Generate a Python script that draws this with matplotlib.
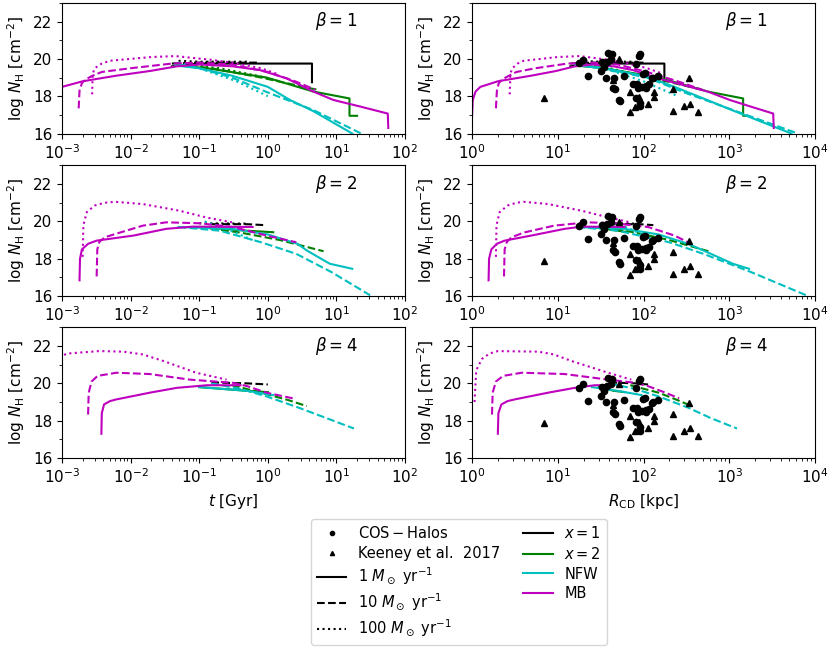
import matplotlib
matplotlib.use('Agg')
import matplotlib.pyplot as plt
from matplotlib.lines import Line2D

# Observations (R_CD [kpc], log N_H)
cos_r = [17.7, 19.7, 22.6, 31.5, 34.4, 33, 36.3, 38.3, 43, 42.3, 45, 43.5, 46.2, 51.9, 53.8,
         58.9, 75.7, 84, 86, 95, 99, 108, 116, 129, 148, 88, 92, 81, 90, 90, 104, 127, 106, 81, 37]
cos_n = [19.76, 19.95, 19.07, 19.33, 19.57, 19.81, 19.0, 20.31, 20.26, 19.99, 19.0, 18.46, 18.37, 17.82, 17.74,
         19.09, 18.68, 18.68, 18.46, 18.5, 19.18, 18.46, 18.64, 19.0, 19.09, 20.15, 20.25, 17.92, 17.65, 17.47,
         19.22, 18.95, 18.55, 19.75, 19.85]
keeney_r = [6.9, 44, 52, 69, 69, 79, 89, 89, 113, 133, 133, 221, 221, 298, 347, 340, 427]
keeney_n = [17.89, 18.85, 19.97, 18.25, 17.15, 17.44, 17.65, 17.95, 17.6, 18.23, 17.96, 18.37, 17.2,
            17.47, 17.6, 18.95, 17.17]

# model curves: (t [Gyr], R_CD [kpc], log N_H)
# beta = 1
b1_mb1 = ([7e-4, 7.5e-4, 8.5e-4, 1e-3, 2e-3, 6.2e-3, 0.019, 0.047, 0.1, 0.31, 0.77, 1.9, 4.6, 9, 22, 56, 57],
          [1.0, 1.02, 1.1, 1.25, 2.0, 4.9, 9.5, 15.8, 25, 45, 75, 150, 560, 1010, 1760, 3250, 3300],
          [16.9, 17.8, 18.25, 18.5, 18.8, 19.1, 19.35, 19.6, 19.7, 19.6, 19.4, 18.95, 18.25, 17.8, 17.45,
           17.07, 16.3])
b1_mb10 = ([1.75e-3, 1.8e-3, 1.95e-3, 2.2e-3, 2.8e-3, 3.8e-3, 0.01, 0.04, 0.1, 0.3, 1.0, 2.5, 4.9],
           [1.9, 1.95, 2.05, 2.25, 2.7, 3.3, 5.5, 13, 25, 50, 110, 250, 480],
           [17.35, 18.3, 18.7, 18.9, 19.1, 19.3, 19.5, 19.75, 19.8, 19.7, 19.3, 18.8, 18.35])
b1_mb100 = ([2.75e-3, 2.8e-3, 3e-3, 3.8e-3, 5e-3, 0.02, 0.045, 0.15, 0.3, 0.8, 1.35],
            [2.75, 2.8, 2.95, 3.4, 4.0, 10, 18, 40, 60, 110, 170],
            [18.1, 19.2, 19.5, 19.75, 19.9, 20.1, 20.15, 19.95, 19.8, 19.5, 19.2])
b1_x1_1 = ([0.04, 0.1, 4.4, 4.4], [14, 25, 175, 175], [19.6, 19.75, 19.75, 18.75])
b1_x1_10 = ([0.04, 0.1, 0.7], [14, 25, 100], [19.75, 19.8, 19.8])
b1_x1_100 = ([0.05, 0.1, 0.5], [18, 30, 80], [19.9, 19.85, 19.85])
b1_x2_1 = ([0.05, 0.13, 0.96, 4.6, 15.5, 15.5, 20],
           [16, 35, 150, 560, 1450, 1450, 1600],
           [19.65, 19.5, 19.0, 18.25, 17.88, 16.95, 16.95])
b1_x2_10 = ([0.05, 0.15, 0.8, 2.5, 5.2], [16, 35, 120, 280, 480], [19.7, 19.5, 19.0, 18.6, 18.35])
b1_x2_100 = ([0.05, 0.2, 0.7, 1.5], [17, 40, 100, 170], [19.75, 19.5, 19.1, 18.8])
b1_nfw1 = ([0.045, 0.1, 0.3, 1.0, 2.1, 4.6, 17],
           [16, 35, 100, 230, 550, 1150, 5300],
           [19.65, 19.5, 19.1, 18.5, 17.8, 17.2, 16.0])
b1_nfw10 = ([0.05, 0.1, 0.3, 1.0, 4.6, 23],
            [17, 30, 110, 300, 1100, 6300],
            [19.7, 19.5, 19.0, 18.2, 17.26, 16.0])
b1_nfw100 = ([0.05, 0.12, 0.35, 1.0], [18, 40, 100, 250], [19.8, 19.4, 18.8, 18.0])

# beta = 2
b2_mb1 = ([1.8e-3, 1.83e-3, 1.95e-3, 2.4e-3, 3.2e-3, 0.011, 0.033, 0.08, 0.6],
          [1.56, 1.58, 1.68, 1.95, 2.4, 4.9, 12, 19, 60],
          [16.84, 18.0, 18.5, 18.8, 18.97, 19.24, 19.6, 19.72, 19.7])
b2_mb10 = ([3.2e-3, 3.27e-3, 3.5e-3, 4.2e-3, 7e-3, 0.015, 0.033, 0.1, 0.31, 0.96, 2.6],
           [2.36, 2.4, 2.55, 2.9, 4.0, 9, 22, 46, 113, 230, 330],
           [17.05, 18.5, 18.9, 19.15, 19.4, 19.77, 19.95, 19.9, 19.7, 19.24, 18.88])
b2_mb100 = ([2.0e-3, 2.05e-3, 2.3e-3, 3e-3, 4.2e-3, 6e-3, 0.015, 0.052, 0.13, 0.3],
            [1.9, 1.93, 2.1, 2.6, 3.3, 4.0, 7.7, 19, 40, 70],
            [18.1, 19.8, 20.5, 20.85, 21.0, 21.05, 20.93, 20.57, 20.2, 19.95])
b2_x1_10 = ([0.15, 0.5, 0.9], [45, 90, 130], [19.85, 19.85, 19.8])
b2_x1_100 = ([0.1, 0.5], [35, 90], [19.9, 19.88])
b2_x2_1 = ([0.1, 0.5, 1.2], [25, 50, 66], [19.7, 19.5, 19.42])
b2_x2_10 = ([0.1, 0.4, 1.5, 6.5], [35, 80, 200, 570], [19.7, 19.4, 19.0, 18.4])
b2_nfw1 = ([0.05, 0.3, 1.0, 2.7, 3.7, 8, 17],
           [17, 60, 150, 330, 500, 1100, 1700],
           [19.7, 19.6, 19.3, 18.8, 18.44, 17.73, 17.46])
b2_nfw10 = ([0.05, 0.2, 0.8, 2.6, 8.5, 31],
            [17, 50, 200, 500, 1800, 7900],
            [19.7, 19.5, 18.88, 18.26, 17.28, 16.04])
b2_nfw100 = ([0.12, 0.25, 0.6], [40, 70, 130], [20.0, 19.6, 19.0])

# beta = 4
b4_mb1 = ([3.75e-3, 3.8e-3, 4.1e-3, 5e-3, 6.2e-3, 0.019, 0.047, 0.13, 0.4],
          [2.0, 2.03, 2.2, 2.6, 3.15, 7.7, 15.8, 27, 40],
          [17.3, 18.4, 18.87, 19.05, 19.14, 19.5, 19.76, 19.9, 19.9])
b4_mb10 = ([2.4e-3, 2.45e-3, 2.7e-3, 3.3e-3, 6.2e-3, 0.019, 0.073, 0.31, 0.5, 0.96, 2.3],
           [1.71, 1.74, 1.9, 2.3, 3.8, 12, 38.6, 80, 113, 180, 260],
           [18.33, 19.5, 20.1, 20.4, 20.57, 20.5, 20.2, 20.03, 19.85, 19.5, 19.2])
b4_mb100 = ([6e-4, 6.5e-4, 7.5e-4, 1.2e-3, 3.5e-3, 7.8e-3, 0.015, 0.03, 0.09, 0.25],
            [1.07, 1.12, 1.3, 1.6, 2.0, 5.9, 9, 14.4, 38.6, 72],
            [19.0, 20.7, 21.3, 21.6, 21.73, 21.7, 21.55, 21.2, 20.57, 20.2])
b4_x1_10 = ([0.15, 0.5, 1.0], [40, 80, 113], [20.05, 20.0, 19.94])
b4_x2_1 = ([0.1, 0.5, 1.0], [30, 45, 60], [19.8, 19.6, 19.53])
b4_x2_10 = ([0.3, 0.8, 2.0, 3.7], [70, 150, 250, 365], [19.9, 19.5, 19.1, 18.78])
b4_nfw1 = ([0.1, 0.5, 1.2], [25, 50, 95], [19.8, 19.6, 19.37])
b4_nfw10 = ([0.15, 0.4, 0.96, 2.8, 7, 18],
            [40, 80, 150, 330, 600, 1230],
            [20.0, 19.7, 19.3, 18.7, 18.15, 17.58])

colors = {'x1': 'k', 'x2': 'green', 'nfw': 'c', 'mb': 'm'}
styles = {1: '-', 10: '--', 100: ':'}

rows = [
    ('1', [(b1_x1_1, 'x1', 1), (b1_x1_10, 'x1', 10), (b1_x1_100, 'x1', 100),
           (b1_x2_1, 'x2', 1), (b1_x2_10, 'x2', 10), (b1_x2_100, 'x2', 100),
           (b1_nfw1, 'nfw', 1), (b1_nfw10, 'nfw', 10), (b1_nfw100, 'nfw', 100),
           (b1_mb1, 'mb', 1), (b1_mb10, 'mb', 10), (b1_mb100, 'mb', 100)]),
    ('2', [(b2_x1_10, 'x1', 10), (b2_x1_100, 'x1', 100),
           (b2_x2_1, 'x2', 1), (b2_x2_10, 'x2', 10),
           (b2_nfw1, 'nfw', 1), (b2_nfw10, 'nfw', 10), (b2_nfw100, 'nfw', 100),
           (b2_mb1, 'mb', 1), (b2_mb10, 'mb', 10), (b2_mb100, 'mb', 100)]),
    ('4', [(b4_x1_10, 'x1', 10),
           (b4_x2_1, 'x2', 1), (b4_x2_10, 'x2', 10),
           (b4_nfw1, 'nfw', 1), (b4_nfw10, 'nfw', 10),
           (b4_mb1, 'mb', 1), (b4_mb10, 'mb', 10), (b4_mb100, 'mb', 100)]),
]

fig = plt.figure(figsize=(8.3, 6.63), dpi=100)
row_bottoms = [0.7986, 0.5535, 0.3092]
col_lefts = [0.0747, 0.5687]

for i, (beta, curves) in enumerate(rows):
    for j in range(2):
        ax = fig.add_axes([col_lefts[j], row_bottoms[i], 0.4133, 0.197])
        for curve, prof, rate in curves:
            ax.plot(curve[j], curve[2], color=colors[prof], linestyle=styles[rate], lw=1.5)
        if j == 1:
            ax.plot(cos_r, cos_n, 'ko', ms=4.5, zorder=3)
            ax.plot(keeney_r, keeney_n, 'k^', ms=5, zorder=3)
            ax.set_xlim(1, 1e4)
        else:
            ax.set_xlim(1e-3, 1e2)
        ax.set_xscale('log')
        ax.set_ylim(16, 23)
        ax.set_yticks([16, 18, 20, 22])
        ax.set_yticks([17, 19, 21, 23], minor=True)
        ax.tick_params(labelsize=11)
        ax.set_ylabel(r'log $N_{\rm H}$ [cm$^{-2}$]', fontsize=11)
        ax.text(0.8, 0.86, r'$\beta=%s$' % beta, transform=ax.transAxes,
                ha='center', va='center', fontsize=12)
        if i == 2:
            ax.set_xlabel(r'$t$ [Gyr]' if j == 0 else r'$R_{\rm CD}$ [kpc]', fontsize=11)

# Legend
handles = [
    Line2D([], [], color='k', marker='o', ls='none', ms=3),
    Line2D([], [], color='k', marker='^', ls='none', ms=3),
    Line2D([], [], color='k', ls='-'),
    Line2D([], [], color='k', ls='--'),
    Line2D([], [], color='k', ls=':'),
    Line2D([], [], color='k', ls='-'),
    Line2D([], [], color='green', ls='-'),
    Line2D([], [], color='c', ls='-'),
    Line2D([], [], color='m', ls='-'),
]
labels = [r'$\rm COS-Halos$', 'Keeney et al.  2017',
          r'1 $M_\odot$ yr$^{-1}$', r'10 $M_\odot$ yr$^{-1}$', r'100 $M_\odot$ yr$^{-1}$',
          r'$x=1$', r'$x=2$', 'NFW', 'MB']
fig.legend(handles, labels, ncol=2, loc='upper center', bbox_to_anchor=(0.553, 0.228),
           fontsize=10.5, columnspacing=1.6, labelspacing=0.33)

fig.savefig('out.png', dpi=100)
